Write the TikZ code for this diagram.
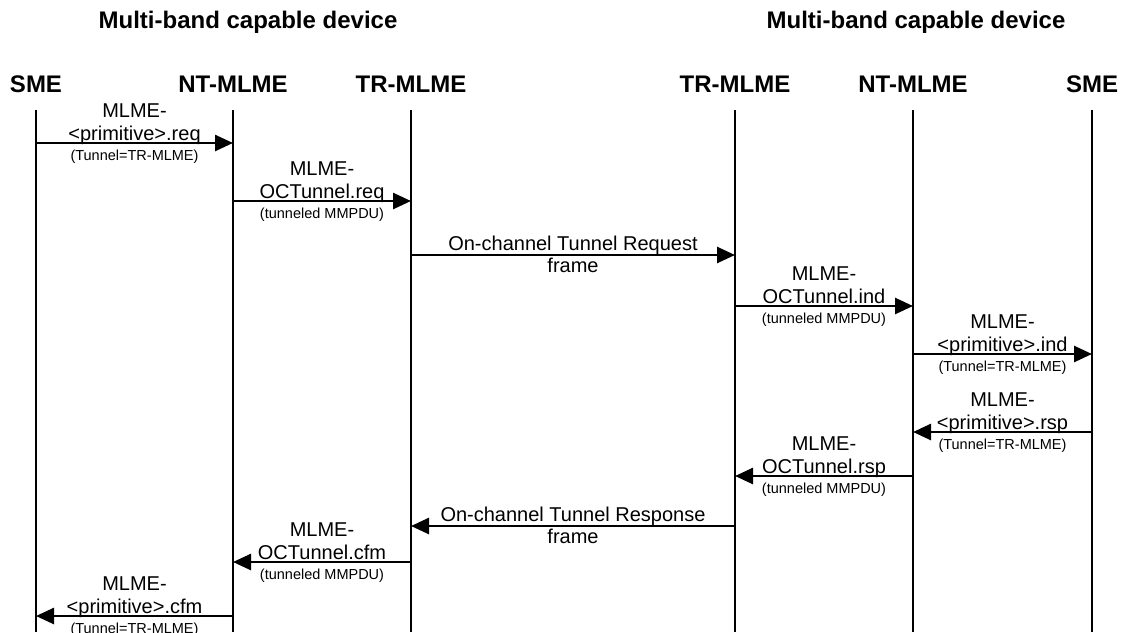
\documentclass[tikz,border=0pt]{standalone}
\usepackage{fontspec}
\setmainfont{Liberation Sans}
\usetikzlibrary{arrows.meta}
\newcommand{\sendmsg}[7]{%
  \coordinate (#1y) at (0,#4);
  \draw[msg] (#2 |- #1y) -- coordinate (#1m) (#3 |- #1y);
  \node[lbl] (#1b) at ([yshift=3pt]#1m) {#6};
  \node[lbl] (#1a) at ([yshift=26pt]#1m) {#5};
  \node[sml] (#1c) at ([yshift=-17.5pt]#1m) {#7};
}
\newcommand{\framemsg}[6]{%
  \coordinate (#1y) at (0,#4);
  \draw[msg] (#2 |- #1y) -- coordinate (#1m) (#3 |- #1y);
  \node[lbl] (#1a) at ([yshift=5pt]#1m) {#5};
  \node[lbl] (#1b) at ([yshift=-17.5pt]#1m) {#6};
}
\begin{document}
\begin{tikzpicture}[x=1pt,y=-1pt,
  lifeline/.style={line width=2.6pt},
  msg/.style={line width=2.6pt,-{Triangle[length=18pt,width=16pt]}},
  lbl/.style={anchor=base,inner sep=0pt,font=\fontsize{20}{23}\selectfont},
  sml/.style={anchor=base,inner sep=0pt,font=\fontsize{14.5}{16}\selectfont},
  hdr/.style={anchor=base,inner sep=0pt,font=\fontsize{24}{28}\bfseries},
  dev/.style={anchor=base,inner sep=0pt,font=\fontsize{24}{28}\bfseries}]
\useasboundingbox (0,0) rectangle (1123,632);
% device titles
\node[dev] (devL) at (248,28) {Multi-band capable device};
\node[dev] (devR) at (916,28) {Multi-band capable device};
% lifeline headers
\node[hdr] (smeL) at (36,92) {SME};
\node[hdr] (ntL) at (233,92) {NT-MLME};
\node[hdr] (trL) at (411,92) {TR-MLME};
\node[hdr] (trR) at (735,92) {TR-MLME};
\node[hdr] (ntR) at (913,92) {NT-MLME};
\node[hdr] (smeR) at (1092,92) {SME};
% lifelines
\foreach \n/\x in {smeL/36,ntL/233,trL/411,trR/735,ntR/913,smeR/1092}{
  \coordinate (\n top) at (\x,110);
  \coordinate (\n bot) at (\x,632);
  \draw[lifeline] (\n top) -- (\n bot);
}
% messages
\sendmsg{m1}{smeLtop}{ntLtop}{143}{MLME-}{<primitive>.req}{(Tunnel=TR-MLME)}
\sendmsg{m2}{ntLtop}{trLtop}{201}{MLME-}{OCTunnel.req}{(tunneled MMPDU)}
\framemsg{m3}{trLtop}{trRtop}{255}{On-channel Tunnel Request}{frame}
\sendmsg{m4}{trRtop}{ntRtop}{306}{MLME-}{OCTunnel.ind}{(tunneled MMPDU)}
\sendmsg{m5}{ntRtop}{smeRtop}{354}{MLME-}{<primitive>.ind}{(Tunnel=TR-MLME)}
\sendmsg{m6}{smeRtop}{ntRtop}{432}{MLME-}{<primitive>.rsp}{(Tunnel=TR-MLME)}
\sendmsg{m7}{ntRtop}{trRtop}{476}{MLME-}{OCTunnel.rsp}{(tunneled MMPDU)}
\framemsg{m8}{trRtop}{trLtop}{526}{On-channel Tunnel Response}{frame}
\sendmsg{m9}{trLtop}{ntLtop}{562}{MLME-}{OCTunnel.cfm}{(tunneled MMPDU)}
\sendmsg{m10}{ntLtop}{smeLtop}{616}{MLME-}{<primitive>.cfm}{(Tunnel=TR-MLME)}
\end{tikzpicture}
\end{document}
